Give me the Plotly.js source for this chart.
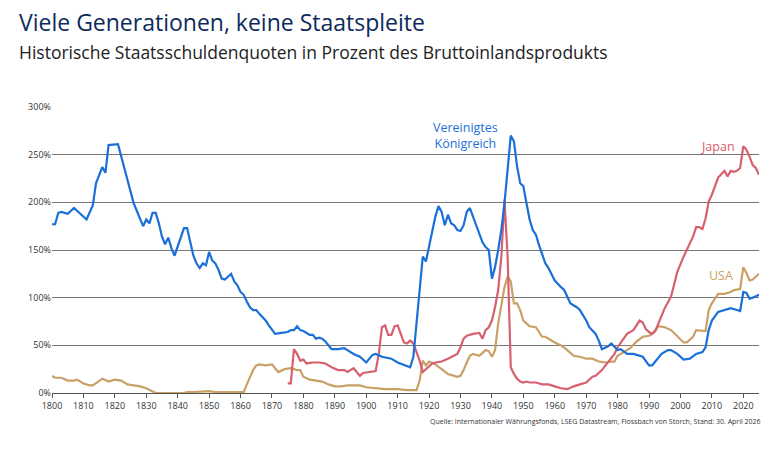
<!DOCTYPE html>
<html><head><meta charset="utf-8">
<script src="https://cdn.plot.ly/plotly-3.0.1.min.js"></script>
<style>body{margin:0;background:#fff}</style></head><body>
<div id="c" style="width:780px;height:449px"></div>
<script>
const ukYears=[1800,1801,1802,1803,1805,1807,1811,1813,1814,1816,1817,1818,1821,1822,1823,1824,1826,1829,1830,1831,1832,1833,1834,1835,1836,1837,1838,1839,1840,1841,1842,1843,1844,1845,1846,1847,1848,1849,1850,1851,1852,1853,1854,1855,1856,1857,1858,1859,1860,1861,1862,1863,1864,1865,1866,1867,1868,1869,1870,1871,1873,1875,1876,1877,1878,1879,1880,1881,1882,1883,1884,1885,1886,1887,1888,1889,1891,1893,1894,1896,1898,1900,1902,1903,1905,1908,1910,1913,1914,1915,1916,1917,1918,1919,1920,1922,1923,1924,1925,1926,1927,1928,1929,1930,1931,1932,1933,1934,1935,1936,1937,1938,1939,1940,1941,1942,1943,1944,1945,1946,1947,1948,1949,1950,1951,1952,1953,1954,1955,1956,1957,1958,1960,1962,1963,1964,1965,1967,1968,1970,1971,1973,1974,1975,1977,1978,1979,1980,1981,1983,1985,1987,1988,1990,1991,1992,1994,1996,1997,1999,2001,2003,2005,2007,2008,2009,2010,2012,2014,2016,2018,2019,2020,2021,2022,2023,2025];
const ukDebt=[177,177,189,190,188,194,182,197,220,237,231,260,261,248,238,224,199,175,182,178,189,189,178,164,156,163,152,144,153,164,173,173,157,144,136,131,136,134,148,139,136,129,120,119,122,125,117,113,106,103,96,90,87,87,83,80,76,71,67,62,63,64,66,66,70,66,65,63,61,61,57,58,57,54,50,46,46,47,45,41,38,32,40,41,38,36,32,28,27,38,73,115,143,138,153,185,196,190,176,187,178,176,171,170,176,190,194,185,176,168,158,153,150,120,132,150,171,199,231,270,264,238,220,217,199,182,171,166,155,146,136,131,118,111,108,101,94,90,87,76,69,62,55,46,49,52,48,45,46,41,41,39,38,29,29,33,41,45,45,41,35,36,41,43,48,66,76,85,87,89,87,86,106,105,99,100,103];
const jpYears=[1875,1876,1877,1878,1879,1880,1881,1883,1885,1887,1889,1891,1893,1894,1896,1898,1899,1901,1903,1904,1905,1906,1907,1908,1909,1910,1911,1912,1913,1914,1915,1917,1918,1919,1921,1922,1924,1926,1928,1929,1930,1931,1932,1934,1936,1937,1938,1939,1940,1941,1942,1943,1944,1945,1946,1947,1948,1949,1950,1951,1952,1954,1956,1958,1960,1962,1964,1966,1968,1970,1972,1973,1975,1977,1979,1980,1981,1983,1985,1986,1987,1988,1989,1990,1991,1992,1993,1994,1995,1997,1999,2001,2003,2004,2005,2006,2007,2008,2009,2010,2012,2013,2014,2015,2016,2017,2018,2019,2020,2021,2022,2023,2024,2025];
const jpDebt=[10,10,46,41,34,35,31,32,32,31,27,24,24,22,26,18,21,22,23,41,69,71,61,61,70,71,61,53,52,55,52,34,22,25,31,32,33,36,39,41,48,57,60,62,63,57,66,69,76,90,108,143,203,143,27,20,15,12,11,12,11,11,9,9,7,5,4,7,9,11,17,18,24,32,41,48,53,62,66,71,76,74,67,64,62,65,73,80,89,101,127,143,157,164,174,174,172,183,201,208,226,229,233,227,233,232,233,236,259,255,248,239,236,229];
const usYears=[1800,1801,1803,1805,1807,1808,1810,1812,1813,1815,1816,1818,1820,1822,1824,1826,1828,1830,1832,1833,1842,1843,1845,1848,1850,1852,1856,1860,1861,1862,1863,1864,1865,1866,1868,1870,1872,1874,1876,1878,1879,1880,1882,1884,1886,1888,1890,1892,1894,1896,1898,1900,1903,1906,1910,1913,1916,1917,1918,1919,1920,1922,1924,1926,1928,1929,1930,1931,1932,1933,1934,1936,1938,1939,1940,1941,1942,1943,1944,1945,1946,1947,1948,1949,1950,1951,1952,1954,1956,1957,1958,1960,1962,1964,1966,1968,1970,1972,1974,1976,1978,1979,1980,1982,1984,1986,1988,1990,1991,1993,1995,1997,1999,2001,2002,2004,2005,2007,2008,2009,2010,2012,2014,2016,2017,2019,2020,2021,2022,2023,2025];
const usDebt=[18,16,16,13,13,14,10,8,8,13,15,12,14,13,9,8,7,5,2,0,0,1,1,2,2,1,1,1,1,9,17,24,29,30,29,30,22,25,26,24,24,17,14,13,12,9,7,7,8,8,8,6,5,4,4,3,3,13,34,29,33,30,25,20,18,17,18,24,32,39,41,39,45,44,38,45,73,94,111,122,117,94,94,87,76,73,70,69,59,59,57,53,50,45,39,38,36,36,33,32,33,33,39,43,47,54,59,60,62,70,69,66,59,53,53,59,66,65,65,87,94,104,104,106,108,109,132,126,118,119,125];
const xTicks=[1800,1810,1820,1830,1840,1850,1860,1870,1880,1890,1900,1910,1920,1930,1940,1950,1960,1970,1980,1990,2000,2010,2020];
const yTicks=[0,50,100,150,200,250,300];
const tr=(x,y,c)=>({x:x,y:y,type:'scatter',mode:'lines',line:{color:c,width:2.2},hoverinfo:'skip'});
Plotly.newPlot('c',[tr(usYears,usDebt,'#c9a066'),tr(jpYears,jpDebt,'#d6606e'),tr(ukYears,ukDebt,'#1a6fd8')],{
 width:780,height:449,margin:{l:52,r:21,t:107,b:56},showlegend:false,
 paper_bgcolor:'#fff',plot_bgcolor:'#fff',font:{family:'Open Sans, sans-serif'},
 xaxis:{range:[1800,2025],tickvals:xTicks,ticktext:xTicks.map(String),showgrid:false,zeroline:false,
  showline:true,linecolor:'#555',ticks:'outside',ticklen:4,tickcolor:'#555',tickfont:{size:9,color:'#333'}},
 yaxis:{range:[0,300],tickvals:yTicks,ticktext:yTicks.map(v=>v+'%'),gridcolor:'#777',gridwidth:1,zeroline:false,
  tickfont:{size:9,color:'#333'},ticks:'',fixedrange:true},
 annotations:[
  {text:'Viele Generationen, keine Staatspleite',xref:'paper',yref:'paper',x:-0.05,y:1.297,xanchor:'left',yanchor:'middle',showarrow:false,font:{size:23,color:'#0d2a5c'}},
  {text:'Historische Staatsschuldenquoten in Prozent des Bruttoinlandsprodukts',xref:'paper',yref:'paper',x:-0.05,y:1.192,xanchor:'left',yanchor:'middle',showarrow:false,font:{size:17.5,color:'#222'}},
  {text:'Vereinigtes<br>Königreich',x:1931.5,y:270,xanchor:'center',yanchor:'middle',showarrow:false,font:{size:12.5,color:'#1a6fd8'}},
  {text:'Japan',x:2012,y:259,xanchor:'center',yanchor:'middle',showarrow:false,font:{size:12.5,color:'#d6606e'}},
  {text:'USA',x:2013,y:123,xanchor:'center',yanchor:'middle',showarrow:false,font:{size:12.5,color:'#c9a066'}},
  {text:'Quelle: Internationaler Währungsfonds, LSEG Datastream, Flossbach von Storch, Stand: 30. April 2026',xref:'paper',yref:'paper',x:1.005,y:-0.098,xanchor:'right',yanchor:'middle',showarrow:false,font:{size:7,color:'#333'}}
 ]
},{displayModeBar:false,staticPlot:true});
</script></body></html>
